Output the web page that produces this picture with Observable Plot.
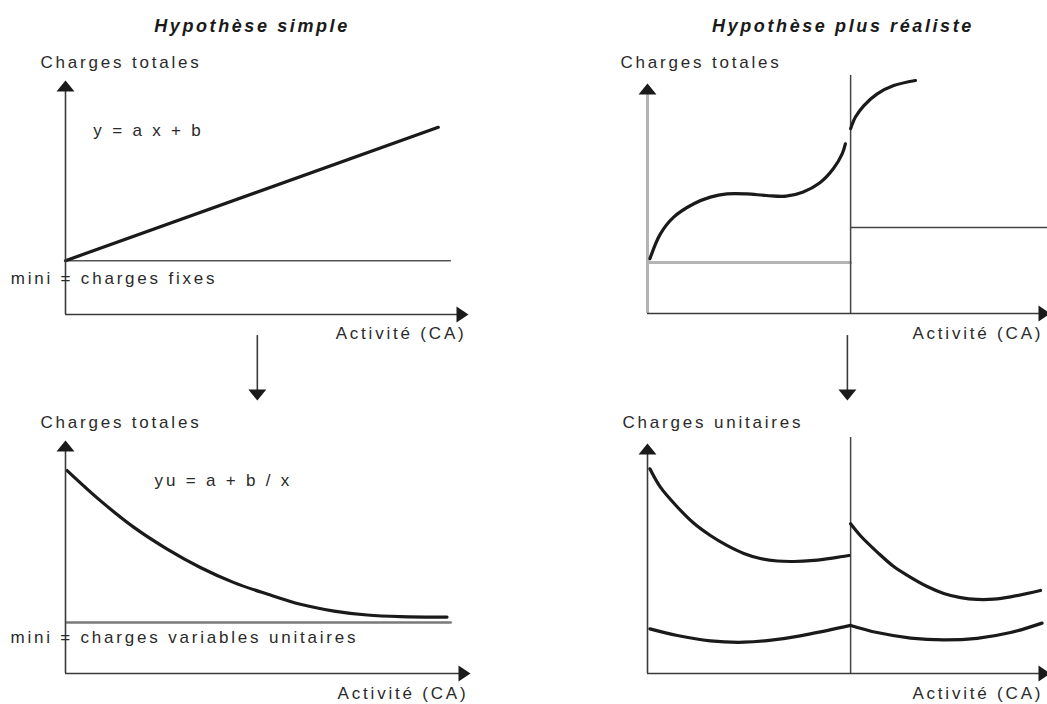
<!DOCTYPE html>
<html><head><meta charset="utf-8">
<script src="https://cdn.jsdelivr.net/npm/d3@7"></script>
<script src="https://cdn.jsdelivr.net/npm/@observablehq/plot@0.6"></script>
<style>
body{margin:0;background:#fff;}
#wrap{position:relative;width:1047px;height:704px;overflow:hidden;font-family:"Liberation Sans",Arial,sans-serif;color:#222;background:#fff;}
.title{position:absolute;font-weight:bold;font-style:italic;font-size:18px;letter-spacing:2.6px;transform:translate(-50%,-50%);white-space:nowrap;color:#1a1a1a;}
</style></head><body><div id="wrap"></div>
<script>
// ---------- texts ----------
const titles = ["Hypothèse simple", "Hypothèse plus réaliste"];
const yLabels = ["Charges totales", "Charges totales", "Charges totales", "Charges unitaires"];
const xLabel = "Activité (CA)";
const eqLabels = ["y = a x + b", "yu = a + b / x"];
const minLabels = ["mini = charges fixes", "mini = charges variables unitaires"];

// ---------- top-left: hypothèse simple, charges totales ----------
const tlSlopeX = [0, 92.5];
const tlSlopeY = [23, 80];
const tlFixedX = [0, 95.5];
const tlFixedY = [23, 23];

// ---------- top-right: hypothèse réaliste, charges totales ----------
const trCurve1X = [0.6, 3.2, 6.5, 11.5, 15.6, 19.7, 24.6, 29.5, 34.4, 38.5, 42.7, 46.1, 48.3, 49.1];
const trCurve1Y = [23.8, 34.6, 41.9, 47.7, 50.6, 52.0, 52.0, 51.3, 51.0, 52.7, 56.7, 62.9, 69.4, 73.8];
const trCurve2X = [50.4, 51.6, 53.7, 57.0, 61.1, 66.5];
const trCurve2Y = [80.3, 85.4, 90.4, 95.5, 99.1, 101.3];
const trFixed1X = [0, 50.4];
const trFixed1Y = [22.2, 22.2];
const trFixed2X = [50.4, 100];
const trFixed2Y = [37.4, 37.4];
const trStepX = [50.4];
const trStepTop = [103.5];

// ---------- bottom-left: hypothèse simple, charges unitaires ----------
const blCurveX = [0.4, 8.6, 16.9, 25.1, 33.3, 41.6, 49.8, 58.0, 66.3, 74.5, 82.7, 94.2];
const blCurveY = [87.1, 74.2, 62.7, 53.4, 45.5, 39.0, 34.1, 29.7, 26.8, 25.1, 24.4, 24.2];
const blMinX = [0.4, 95.1];
const blMinY = [21.9, 21.9];

// ---------- bottom-right: hypothèse réaliste, charges unitaires ----------
const brCurveAX = [0.6, 3.2, 7.4, 11.5, 15.6, 19.7, 23.9, 28.0, 32.2, 36.3, 41.3, 46.3, 50.0];
const brCurveAY = [89.0, 81.0, 72.4, 65.3, 60.0, 55.7, 52.2, 50.0, 48.9, 48.7, 49.2, 50.3, 51.3];
const brCurveBX = [50.4, 52.9, 57.0, 61.1, 65.3, 69.4, 73.5, 77.7, 81.8, 85.9, 90.1, 97.5];
const brCurveBY = [65.1, 59.8, 52.8, 46.5, 41.8, 37.8, 34.8, 33.0, 32.2, 32.3, 33.3, 36.1];
const brCurveC1X = [0.6, 7.4, 15.6, 23.9, 32.2, 40.4, 50.4];
const brCurveC1Y = [19.4, 16.5, 14.2, 13.6, 14.8, 17.2, 20.9];
const brCurveC2X = [50.4, 57.0, 65.3, 73.5, 81.8, 90.1, 97.9];
const brCurveC2Y = [20.9, 17.8, 15.4, 14.6, 15.3, 17.8, 21.9];
const brStepX = [50.4];
const brStepTop = [102.6];

// ---------- helpers ----------
const zip = (xs, ys) => xs.map((x, i) => ({x, y: ys[i]}));
const headUp = {draw(c) { c.moveTo(0, 0); c.lineTo(9, 11); c.lineTo(-9, 11); c.closePath(); }};
const headRight = {draw(c) { c.moveTo(0, 0); c.lineTo(-12, 8); c.lineTo(-12, -8); c.closePath(); }};
const headDown = {draw(c) { c.moveTo(0, 0); c.lineTo(9, -11); c.lineTo(-9, -11); c.closePath(); }};
const INK = "#1a1a1a", AXIS = "#3a3a3a", TXT = "#2a2a2a";

function axes(yAxisColor = AXIS, yAxisWidth = 1.6) {
  return [
    Plot.ruleX([0], {y1: 0, y2: 99, stroke: yAxisColor, strokeWidth: yAxisWidth}),
    Plot.ruleY([0], {x1: 0, x2: 99, stroke: AXIS, strokeWidth: 1.6}),
    Plot.dot([{x: 0, y: 100}], {x: "x", y: "y", symbol: headUp, fill: INK, stroke: "none"}),
    Plot.dot([{x: 100, y: 0}], {x: "x", y: "y", symbol: headRight, fill: INK, stroke: "none"})
  ];
}
function label(x, y, text, anchor = "start") {
  return Plot.text([{x, y, text}], {x: "x", y: "y", text: "text", textAnchor: anchor, fill: TXT, fontSize: 17});
}
function curve(xs, ys, opts = {}) {
  return Plot.line(zip(xs, ys), {x: "x", y: "y", stroke: INK, strokeWidth: 3.2, curve: "catmull-rom", strokeLinecap: "round", ...opts});
}
function downArrow(x, y1, y2) {
  return [
    Plot.ruleX([x], {y1, y2: y2 + 3, stroke: AXIS, strokeWidth: 1.6}),
    Plot.dot([{x, y: y2}], {x: "x", y: "y", symbol: headDown, fill: INK, stroke: "none"})
  ];
}

const wrap = document.getElementById("wrap");
function panel(geo, marks) {
  const svg = Plot.plot({
    width: geo.width, height: geo.height,
    marginLeft: geo.ox - geo.left, marginRight: geo.left + geo.width - geo.tx,
    marginTop: geo.ty - geo.top, marginBottom: geo.top + geo.height - geo.oy,
    x: {domain: [0, 100], axis: null},
    y: {domain: [0, 100], axis: null},
    style: {overflow: "visible", background: "transparent", fontFamily: '"Liberation Sans", Arial, sans-serif', fontSize: "17px", letterSpacing: "2.8px", position: "absolute", left: geo.left + "px", top: geo.top + "px", maxWidth: "none"},
    marks
  });
  wrap.append(svg);
}

// titles
[[titles[0], 252], [titles[1], 843]].forEach(([t, cx]) => {
  const d = document.createElement("div");
  d.className = "title"; d.textContent = t;
  d.style.left = cx + "px"; d.style.top = "26px";
  wrap.append(d);
});

// top-left
panel({left: 0, top: 35, width: 520, height: 370, ox: 65, oy: 314, tx: 468, ty: 80}, [
  Plot.line(zip(tlFixedX, tlFixedY), {x: "x", y: "y", stroke: "#555", strokeWidth: 1.6}),
  curve(tlSlopeX, tlSlopeY, {curve: "linear"}),
  ...axes(),
  label(-6.2, 107.7, yLabels[0]),
  label(6.9, 78.6, eqLabels[0]),
  label(-13.6, 15.4, minLabels[0]),
  label(99.5, -8.1, xLabel, "end"),
  ...downArrow(47.6, -9, -36.8)
]);

// top-right
panel({left: 560, top: 35, width: 490, height: 370, ox: 647, oy: 313, tx: 1050, ty: 83}, [
  Plot.line(zip(trFixed1X, trFixed1Y), {x: "x", y: "y", stroke: "#b4b4b4", strokeWidth: 3}),
  Plot.line(zip(trFixed2X, trFixed2Y), {x: "x", y: "y", stroke: "#444", strokeWidth: 1.5}),
  Plot.ruleX(trStepX, {y1: 0, y2: trStepTop[0], stroke: "#444", strokeWidth: 1.5}),
  ...axes("#b4b4b4", 3),
  curve(trCurve1X, trCurve1Y),
  curve(trCurve2X, trCurve2Y),
  label(-6.7, 109.1, yLabels[1]),
  label(98.2, -8.7, xLabel, "end"),
  ...downArrow(49.6, -9.6, -37.8)
]);

// bottom-left
panel({left: 0, top: 395, width: 520, height: 309, ox: 65, oy: 673, tx: 470, ty: 440}, [
  Plot.line(zip(blMinX, blMinY), {x: "x", y: "y", stroke: "#7a7a7a", strokeWidth: 2.6}),
  curve(blCurveX, blCurveY),
  ...axes(),
  label(-6.2, 107.7, yLabels[2]),
  label(22, 82.8, eqLabels[1]),
  label(-13.6, 15.5, minLabels[1]),
  label(99.5, -8.6, xLabel, "end")
]);

// bottom-right
panel({left: 560, top: 395, width: 490, height: 309, ox: 647, oy: 673, tx: 1050, ty: 443}, [
  Plot.ruleX(brStepX, {y1: 0, y2: brStepTop[0], stroke: "#444", strokeWidth: 1.5}),
  ...axes(),
  curve(brCurveAX, brCurveAY),
  curve(brCurveBX, brCurveBY),
  curve(brCurveC1X, brCurveC1Y),
  curve(brCurveC2X, brCurveC2Y),
  label(-6.2, 109.1, yLabels[3]),
  label(98.2, -8.7, xLabel, "end")
]);
</script></body></html>
